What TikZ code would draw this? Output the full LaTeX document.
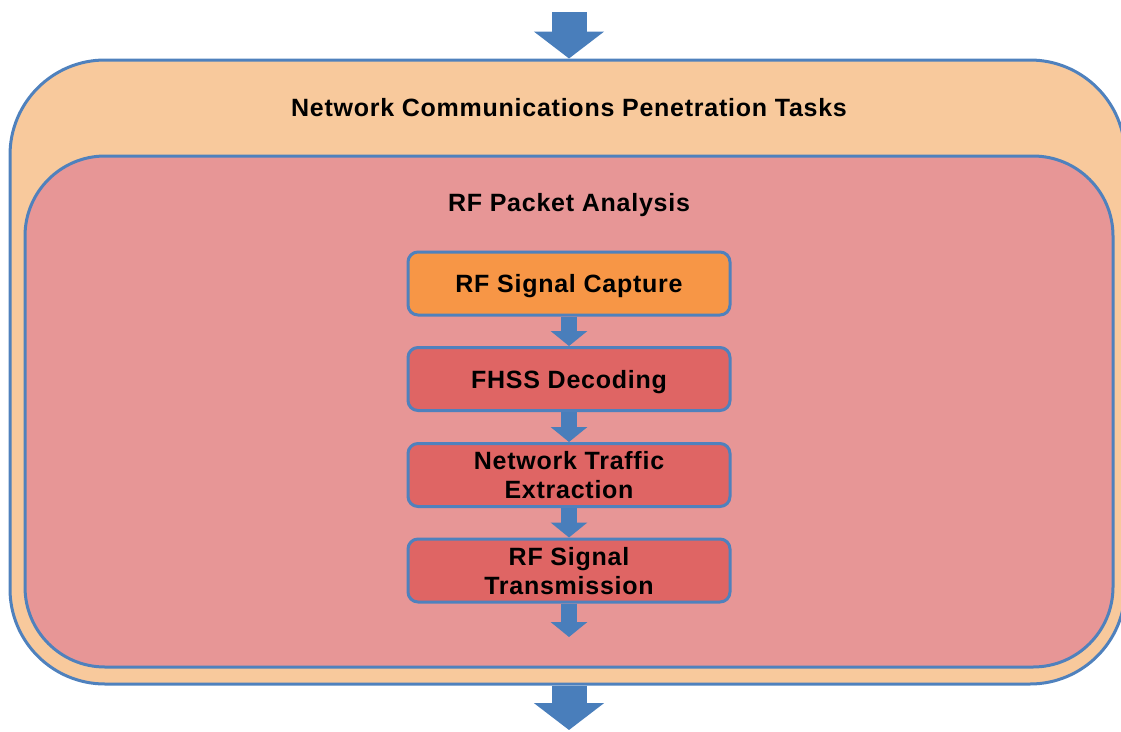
\documentclass[tikz,border=0pt]{standalone}
\usepackage{fontspec}
\setmainfont[LetterSpace=3]{Liberation Sans}
\usetikzlibrary{arrows.meta}

\definecolor{frameblue}{RGB}{79,129,189}
\definecolor{flowblue}{RGB}{73,126,187}
\definecolor{peach}{RGB}{248,201,156}
\definecolor{rosefill}{RGB}{231,150,150}
\definecolor{stepred}{RGB}{223,101,100}
\definecolor{steporange}{RGB}{247,150,70}

\tikzset{
  container/.style={draw=frameblue, line width=3pt, rectangle},
  heading/.style={font=\fontsize{25}{29}\selectfont\bfseries, anchor=base},
  stagebox/.style={draw=frameblue, line width=3pt, rounded corners=10pt,
    minimum width=322pt, minimum height=63pt, align=center,
    font=\fontsize{25}{29}\selectfont\bfseries, inner sep=0pt},
  oneline/.style={text height=18pt, text depth=0pt},
  twolines/.style={text height=47pt, text depth=0pt},
  smallflow/.style={draw=flowblue, line width=16pt,
    -{Triangle[width=36pt,length=15pt]}},
  bigflow/.style={draw=flowblue, line width=35pt,
    -{Triangle[width=69pt,length=27pt]}}
}

\begin{document}
\begin{tikzpicture}[x=1pt,y=-1pt]
\useasboundingbox (0,0) rectangle (1121,731);

% nested task containers
\node[container, fill=peach, rounded corners=95pt,
      minimum width=1115pt, minimum height=624pt] (outer) at (567.5,372) {};
\node[container, fill=rosefill, rounded corners=80pt,
      minimum width=1088pt, minimum height=511pt] (inner) at (569,411.5) {};

\node[heading] (outertitle) at (569,116) {Network Communications Penetration Tasks};
\node[heading] (innertitle) at (569,211) {RF Packet Analysis};

% flow into and out of the task group
\coordinate (entry) at (569,12);
\coordinate (exit) at (569,730);
\draw[bigflow] (entry) -- (entry |- outer.north);
\draw[bigflow] (exit |- outer.south) -- (exit);

% processing stages
\node[stagebox, fill=steporange, oneline] (capture) at (569,283.5) {RF Signal Capture};
\node[stagebox, fill=stepred, oneline] (decode) at (569,379) {FHSS Decoding};
\node[stagebox, fill=stepred, twolines] (extract) at (569,475) {Network Traffic\\Extraction};
\node[stagebox, fill=stepred, twolines] (transmit) at (569,570.5) {RF Signal\\Transmission};
\coordinate (stageend) at (569,637);

\draw[smallflow] (capture.south) -- (decode.north);
\draw[smallflow] (decode.south) -- (extract.north);
\draw[smallflow] (extract.south) -- (transmit.north);
\draw[smallflow] (transmit.south) -- (stageend);
\end{tikzpicture}
\end{document}
